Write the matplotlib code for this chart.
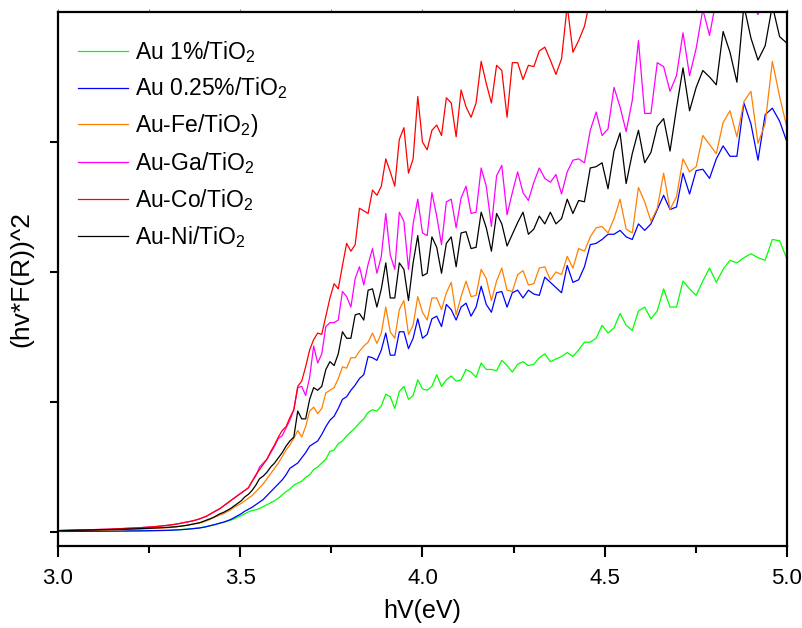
import numpy as np
import matplotlib
matplotlib.use('Agg')
import matplotlib.pyplot as plt
from matplotlib.ticker import MultipleLocator

plt.rcParams['font.family'] = ['Liberation Sans', 'DejaVu Sans']
plt.rcParams['mathtext.fontset'] = 'custom'
plt.rcParams['mathtext.rm'] = 'Liberation Sans'

# wavelength grid (nm), 1 nm steps in the absorption region, coarser in the flat tail
wavelength = np.array(list(range(248, 367)) + [368, 370, 373, 376, 380, 385, 390, 395, 400, 405, 410, 414])

# (hv*F(R))^2, one value per wavelength above
au1 = [2.10, 2.24, 2.25, 2.09, 2.11, 2.14, 2.11, 2.07, 2.09, 2.02,
       1.92, 2.03, 1.93, 1.82, 1.87, 1.93, 1.73, 1.73, 1.87, 1.70,
       1.64, 1.73, 1.70, 1.55, 1.59, 1.68, 1.57, 1.53, 1.59, 1.49,
       1.46, 1.46, 1.40, 1.35, 1.38, 1.35, 1.33, 1.31, 1.37, 1.34,
       1.29, 1.28, 1.31, 1.29, 1.23, 1.28, 1.32, 1.24, 1.25, 1.25,
       1.30, 1.19, 1.23, 1.25, 1.17, 1.16, 1.20, 1.17, 1.12, 1.21,
       1.12, 1.09, 1.10, 1.17, 1.05, 1.02, 1.12, 1.08, 0.95, 1.04,
       1.06, 0.97, 0.93, 0.94, 0.92, 0.87, 0.84, 0.80, 0.77, 0.74,
       0.70, 0.68, 0.63, 0.62, 0.56, 0.53, 0.50, 0.48, 0.44, 0.42,
       0.39, 0.375, 0.36, 0.33, 0.31, 0.285, 0.26, 0.24, 0.225, 0.21,
       0.195, 0.18, 0.17, 0.165, 0.155, 0.14, 0.125, 0.115, 0.10, 0.09,
       0.082, 0.075, 0.068, 0.06, 0.053, 0.047, 0.041, 0.036, 0.032,
       0.026, 0.021, 0.016, 0.012, 0.01, 0.008, 0.007, 0.006, 0.005, 0.005, 0.004, 0.004]

au025 = [3.00, 3.16, 3.26, 3.21, 2.86, 3.14, 3.30, 2.89, 2.89, 2.97,
         2.87, 2.72, 2.79, 2.78, 2.60, 2.76, 2.50, 2.48, 2.59, 2.48,
         2.37, 2.32, 2.37, 2.25, 2.27, 2.32, 2.29, 2.29, 2.25, 2.22,
         2.21, 2.04, 1.94, 1.92, 2.05, 1.84, 1.88, 1.92, 1.96, 1.82,
         1.83, 1.86, 1.80, 1.86, 1.84, 1.73, 1.85, 1.84, 1.69, 1.75,
         1.89, 1.73, 1.66, 1.76, 1.73, 1.63, 1.71, 1.75, 1.58, 1.66,
         1.64, 1.52, 1.49, 1.64, 1.49, 1.41, 1.54, 1.54, 1.36, 1.36,
         1.53, 1.40, 1.32, 1.34, 1.35, 1.21, 1.18, 1.13, 1.09, 1.04,
         1.02, 0.95, 0.89, 0.86, 0.81, 0.75, 0.70, 0.68, 0.66, 0.61,
         0.57, 0.53, 0.51, 0.49, 0.44, 0.40, 0.37, 0.34, 0.31, 0.28,
         0.25, 0.23, 0.21, 0.19, 0.175, 0.16, 0.14, 0.125, 0.11, 0.095,
         0.085, 0.075, 0.068, 0.06, 0.053, 0.047, 0.04, 0.035, 0.03,
         0.025, 0.02, 0.015, 0.012, 0.01, 0.008, 0.007, 0.006, 0.005, 0.005, 0.004, 0.004]

aufe = [3.11, 3.35, 3.62, 3.14, 2.99, 3.39, 3.31, 3.04, 3.24, 3.15,
        2.91, 2.98, 3.05, 2.81, 2.77, 2.87, 2.58, 2.48, 2.76, 2.49,
        2.39, 2.54, 2.65, 2.30, 2.33, 2.56, 2.41, 2.30, 2.35, 2.34,
        2.27, 2.16, 2.18, 2.03, 2.12, 1.98, 2.00, 1.94, 2.04, 2.03,
        1.91, 1.90, 2.01, 1.98, 1.85, 1.86, 2.03, 1.93, 1.78, 1.95,
        2.02, 1.82, 1.81, 1.93, 1.81, 1.67, 1.92, 1.84, 1.71, 1.80,
        1.80, 1.63, 1.69, 1.81, 1.59, 1.52, 1.78, 1.71, 1.49, 1.54,
        1.73, 1.53, 1.45, 1.53, 1.46, 1.43, 1.39, 1.34, 1.34, 1.26,
        1.27, 1.18, 1.11, 1.09, 1.07, 0.95, 0.91, 0.96, 0.93, 0.81,
        0.73, 0.78, 0.72, 0.67, 0.63, 0.58, 0.53, 0.49, 0.45, 0.41,
        0.37, 0.34, 0.31, 0.28, 0.26, 0.24, 0.22, 0.205, 0.19, 0.17,
        0.155, 0.14, 0.13, 0.12, 0.11, 0.095, 0.085, 0.075, 0.07,
        0.06, 0.05, 0.04, 0.032, 0.027, 0.022, 0.018, 0.015, 0.013, 0.012, 0.011, 0.01]

auga = [4.20, 4.30, 4.35, 4.15, 3.98, 4.10, 4.30, 4.20, 4.25, 4.15,
        4.10, 3.82, 4.02, 3.72, 3.51, 3.84, 3.51, 3.39, 3.58, 3.61,
        3.22, 3.22, 3.78, 3.32, 3.08, 3.27, 3.42, 3.10, 3.05, 3.23,
        3.09, 2.84, 2.87, 2.86, 2.77, 2.60, 2.75, 2.69, 2.72, 2.80,
        2.69, 2.55, 2.61, 2.77, 2.61, 2.44, 2.82, 2.74, 2.35, 2.66,
        2.80, 2.46, 2.45, 2.66, 2.57, 2.34, 2.56, 2.54, 2.21, 2.43,
        2.61, 2.28, 2.30, 2.56, 2.37, 2.02, 2.39, 2.46, 2.02, 2.13,
        2.45, 2.12, 1.99, 2.18, 2.06, 1.90, 2.04, 1.95, 1.73, 1.81,
        1.85, 1.63, 1.61, 1.61, 1.58, 1.37, 1.30, 1.43, 1.19, 1.05,
        1.12, 1.11, 0.94, 0.86, 0.80, 0.74, 0.72, 0.66, 0.61, 0.56,
        0.53, 0.50, 0.43, 0.39, 0.34, 0.32, 0.30, 0.28, 0.26, 0.24,
        0.22, 0.20, 0.18, 0.165, 0.15, 0.135, 0.12, 0.11, 0.10,
        0.085, 0.075, 0.06, 0.05, 0.04, 0.032, 0.026, 0.021, 0.018, 0.015, 0.012, 0.01]

auco = [5.10, 5.15, 5.00, 5.10, 5.05, 4.90, 5.00, 4.95, 4.80, 4.90,
        4.85, 4.70, 4.80, 4.75, 4.60, 4.70, 4.65, 4.55, 4.60, 4.45,
        4.50, 4.40, 4.45, 4.30, 4.35, 4.25, 4.30, 4.10, 4.20, 4.15,
        4.10, 3.89, 3.78, 3.69, 4.05, 3.64, 3.52, 3.63, 3.73, 3.70,
        3.58, 3.59, 3.48, 3.61, 3.61, 3.19, 3.55, 3.59, 3.30, 3.45,
        3.62, 3.30, 3.19, 3.27, 3.40, 3.04, 3.30, 3.34, 3.05, 3.13,
        3.09, 2.94, 3.00, 3.35, 2.87, 2.76, 3.11, 3.02, 2.66, 2.77,
        2.87, 2.66, 2.59, 2.63, 2.45, 2.47, 2.49, 2.21, 2.16, 2.22,
        2.05, 1.87, 1.91, 1.80, 1.66, 1.52, 1.53, 1.48, 1.40, 1.27,
        1.16, 1.12, 0.94, 0.88, 0.81, 0.78, 0.73, 0.67, 0.62, 0.56,
        0.52, 0.48, 0.44, 0.39, 0.34, 0.32, 0.30, 0.28, 0.26, 0.24,
        0.22, 0.20, 0.18, 0.165, 0.15, 0.135, 0.12, 0.11, 0.10,
        0.085, 0.075, 0.06, 0.05, 0.04, 0.032, 0.026, 0.021, 0.018, 0.015, 0.012, 0.01]

auni = [3.76, 3.81, 4.05, 3.74, 3.63, 3.80, 4.05, 3.46, 3.69, 3.85,
        3.44, 3.50, 3.55, 3.42, 3.24, 3.57, 3.26, 2.93, 3.18, 3.12,
        2.92, 2.84, 3.09, 2.91, 2.68, 3.07, 2.93, 2.64, 2.84, 2.81,
        2.80, 2.54, 2.55, 2.45, 2.56, 2.41, 2.37, 2.46, 2.37, 2.43,
        2.33, 2.29, 2.46, 2.38, 2.29, 2.20, 2.37, 2.45, 2.16, 2.34,
        2.46, 2.19, 2.18, 2.31, 2.30, 2.04, 2.27, 2.22, 1.99, 2.19,
        2.27, 1.99, 1.97, 2.28, 2.07, 1.78, 2.02, 2.07, 1.80, 1.80,
        2.07, 1.87, 1.73, 1.87, 1.86, 1.63, 1.68, 1.67, 1.49, 1.49,
        1.54, 1.37, 1.28, 1.31, 1.25, 1.12, 1.09, 1.11, 1.02, 0.87,
        0.87, 0.93, 0.73, 0.70, 0.66, 0.61, 0.57, 0.53, 0.50, 0.46,
        0.43, 0.41, 0.36, 0.32, 0.29, 0.27, 0.24, 0.22, 0.20, 0.18,
        0.165, 0.15, 0.14, 0.125, 0.11, 0.10, 0.09, 0.08, 0.07,
        0.06, 0.05, 0.04, 0.035, 0.03, 0.025, 0.02, 0.018, 0.015, 0.013, 0.011, 0.01]

labels = ['Au 1%/TiO$_2$', 'Au 0.25%/TiO$_2$', 'Au-Fe/TiO$_2$)',
          'Au-Ga/TiO$_2$', 'Au-Co/TiO$_2$', 'Au-Ni/TiO$_2$']
colors = ['#00FF00', '#0000FF', '#FF8000', '#FF00FF', '#FF0000', '#000000']
series = [au1, au025, aufe, auga, auco, auni]

hv = 1240.0 / wavelength

fig = plt.figure(figsize=(8.03, 6.28), dpi=100)
ax = fig.add_axes([0.0722, 0.1306, 0.9078, 0.8503])

for y, lab, c in zip(series, labels, colors):
    ax.plot(hv, y, color=c, lw=0.9, label=lab)

ax.set_xlim(3.0, 5.0)
ax.set_ylim(-0.108, 4.0)
ax.xaxis.set_major_locator(MultipleLocator(0.5))
ax.xaxis.set_minor_locator(MultipleLocator(0.25))
ax.set_yticks([0, 1, 2, 3])
ax.set_yticklabels([])
ax.tick_params(axis='x', which='major', direction='out', length=8, width=1.5, labelsize=16, pad=8)
ax.tick_params(axis='x', which='minor', direction='out', length=5, width=1.5)
ax.tick_params(axis='y', which='major', direction='out', length=6, width=1.5)
for s in ax.spines.values():
    s.set_linewidth(1.6)

top = ax.secondary_xaxis('top')
top.xaxis.set_major_locator(MultipleLocator(0.25))
top.tick_params(direction='out', length=2, width=0.8, colors='#888888', labeltop=False)
top.spines['top'].set_visible(False)

ax.set_xlabel('hV(eV)', fontsize=18, labelpad=7)
ax.set_ylabel('(hv*F(R))^2', fontsize=19, labelpad=8)

ax.legend(loc='upper left', bbox_to_anchor=(-0.004, 0.993), frameon=False, fontsize=16.5,
          handlelength=2.2, handletextpad=0.3, labelspacing=0.48, borderaxespad=0.6)

fig.savefig('out.png', dpi=100)
